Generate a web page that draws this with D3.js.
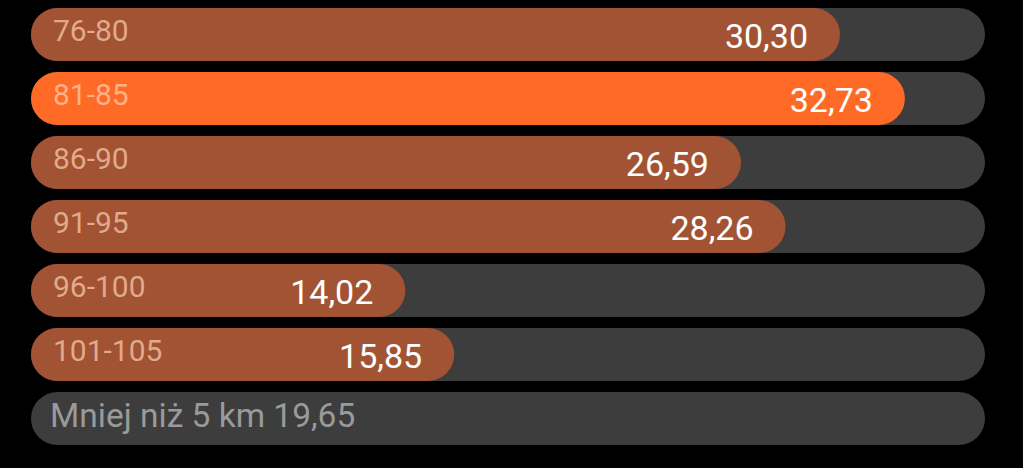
<!DOCTYPE html>
<html>
<head>
<meta charset="utf-8">
<script src="https://cdn.jsdelivr.net/npm/d3@7"></script>
<style>
  html, body { margin: 0; padding: 0; background: #000; }
  svg { display: block; }
</style>
</head>
<body>
<div class="chart"></div>
<script>
// ranges (pace buckets) and their values
const categories = ['76-80', '81-85', '86-90', '91-95', '96-100', '101-105'];
const values = [30.30, 32.73, 26.59, 28.26, 14.02, 15.85];
const highlighted = '81-85';
const footerLabel = 'Mniej niż 5 km';
const footerValue = 19.65;
const domainMax = 35.73;

const width = 1023, height = 468;
const margin = {top: 8, left: 31, right: 38};
const rowStep = 64, rowH = 53;
const nRows = categories.length + 1;

const fmt = v => d3.format('.2f')(v).replace('.', ',');

const svg = d3.select('.chart').append('svg')
    .attr('width', width)
    .attr('height', height);

svg.append('rect')
    .attr('width', width).attr('height', height)
    .attr('fill', '#000');

const x = d3.scaleLinear()
    .domain([0, domainMax])
    .range([margin.left, width - margin.right]);

const y = d3.scaleBand()
    .domain(categories.concat([footerLabel]))
    .range([margin.top, margin.top + rowStep * nRows - (rowStep - rowH)])
    .paddingInner((rowStep - rowH) / rowStep)
    .paddingOuter(0);

// background tracks
svg.append('g')
    .selectAll('rect')
    .data(y.domain())
    .enter()
    .append('rect')
    .attr('x', x(0))
    .attr('y', d => y(d))
    .attr('width', x(domainMax) - x(0))
    .attr('height', y.bandwidth())
    .attr('rx', y.bandwidth() / 2)
    .attr('fill', '#3d3d3d');

const rows = categories.map((c, i) => ({cat: c, value: values[i]}));

// bars
svg.append('g')
    .selectAll('rect')
    .data(rows)
    .enter()
    .append('rect')
    .attr('x', x(0))
    .attr('y', d => y(d.cat))
    .attr('width', d => x(d.value) - x(0))
    .attr('height', y.bandwidth())
    .attr('rx', y.bandwidth() / 2)
    .attr('fill', d => d.cat === highlighted ? '#ff6a26' : '#a25333');

// category labels
svg.append('g')
    .selectAll('text')
    .data(rows)
    .enter()
    .append('text')
    .attr('x', x(0) + 22)
    .attr('y', d => y(d.cat) + 33)
    .text(d => d.cat)
    .style('font-family', 'Roboto, sans-serif')
    .style('font-size', '30px')
    .attr('fill', '#ffd2b4')
    .attr('fill-opacity', 0.7);

// value labels
svg.append('g')
    .selectAll('text')
    .data(rows)
    .enter()
    .append('text')
    .attr('x', d => x(d.value) - 32)
    .attr('y', d => y(d.cat) + 40)
    .attr('text-anchor', 'end')
    .text(d => fmt(d.value))
    .style('font-family', 'Roboto, sans-serif')
    .style('font-size', '34px')
    .attr('fill', '#ffffff');

// footer row
svg.append('text')
    .attr('x', x(0) + 19)
    .attr('y', y(footerLabel) + 35)
    .text(footerLabel + ' ' + fmt(footerValue))
    .style('font-family', 'Roboto, sans-serif')
    .style('font-size', '33.5px')
    .attr('fill', '#9a9a9a');
</script>
</body>
</html>
